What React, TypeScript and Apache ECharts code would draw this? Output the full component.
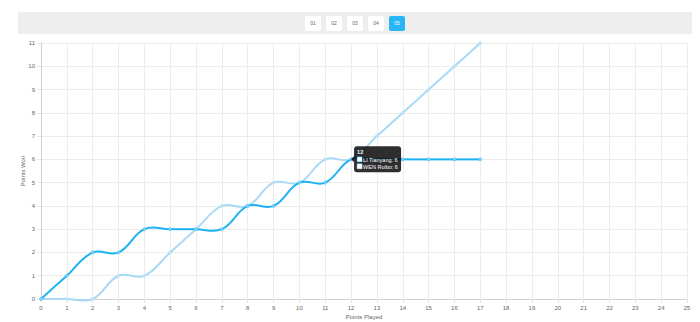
import React, { useEffect, useRef } from "react";
import * as echarts from "echarts";

const pointsPlayed = [0, 1, 2, 3, 4, 5, 6, 7, 8, 9, 10, 11, 12, 13, 14, 15, 16, 17];
const liTianyang = [0, 1, 2, 2, 3, 3, 3, 3, 4, 4, 5, 5, 6, 6, 6, 6, 6, 6];
const wenRuibo = [0, 0, 0, 1, 1, 2, 3, 4, 4, 5, 5, 6, 6, 7, 8, 9, 10, 11];
const games = ["01", "02", "03", "04", "05"];
const activeGame = "05";
const tipIndex = 12;

const DARK = "#1eb2f2";
const LIGHT = "#a9d9f7";
const TENSION = 0.4;

// Chart.js-like cubic spline segments, computed in pixel space via the axis scales
function splineRender(xs: number[], ys: number[], color: string) {
  return (params: any, api: any) => {
    const i = params.dataIndex;
    const n = xs.length;
    if (i >= n - 1) return null;
    const P = (k: number) => {
      const kk = Math.max(0, Math.min(n - 1, k));
      return api.coord([xs[kk], ys[kk]]) as number[];
    };
    const ctrl = (k: number) => {
      const prev = P(k - 1);
      const cur = P(k);
      const next = P(k + 1);
      const d01 = Math.hypot(cur[0] - prev[0], cur[1] - prev[1]);
      const d12 = Math.hypot(next[0] - cur[0], next[1] - cur[1]);
      let s01 = d01 / (d01 + d12);
      let s12 = d12 / (d01 + d12);
      if (isNaN(s01)) s01 = 0;
      if (isNaN(s12)) s12 = 0;
      const fa = TENSION * s01;
      const fb = TENSION * s12;
      return {
        prev: [cur[0] - fa * (next[0] - prev[0]), cur[1] - fa * (next[1] - prev[1])],
        next: [cur[0] + fb * (next[0] - prev[0]), cur[1] + fb * (next[1] - prev[1])],
      };
    };
    const a = P(i);
    const b = P(i + 1);
    const ca = ctrl(i).next;
    const cb = ctrl(i + 1).prev;
    return {
      type: "bezierCurve",
      shape: { x1: a[0], y1: a[1], x2: b[0], y2: b[1], cpx1: ca[0], cpy1: ca[1], cpx2: cb[0], cpy2: cb[1] },
      style: { stroke: color, fill: "none", lineWidth: 2 },
    };
  };
}

export default function App() {
  const ref = useRef<HTMLDivElement>(null);
  useEffect(() => {
    if (!ref.current) return;
    const chart = echarts.init(ref.current, undefined, { renderer: "svg" });
    const font = "Helvetica, Arial, 'Liberation Sans', sans-serif";
    const axisCommon = {
      axisLine: { show: true, lineStyle: { color: "#d0d0d0", width: 1 } },
      axisTick: { show: true, length: 4, lineStyle: { color: "#e8e8e8" } },
      axisLabel: { fontSize: 6, color: "#666", margin: 6, fontFamily: font },
      splitLine: { show: true, lineStyle: { color: "#ececec" } },
      nameTextStyle: { fontSize: 6, color: "#666", fontFamily: font },
      nameMoveOverlap: false,
    };
    chart.setOption({
      animation: false,
      grid: { left: 41, right: 13, top: 43, bottom: 23, containLabel: false, outerBoundsMode: "none" },
      xAxis: {
        type: "value",
        min: 0,
        max: 25,
        interval: 1,
        name: "Points Played",
        nameLocation: "middle",
        nameGap: 15,
        ...axisCommon,
      },
      yAxis: {
        type: "value",
        min: 0,
        max: 11,
        interval: 1,
        name: "Points Won",
        nameLocation: "middle",
        nameGap: 15,
        ...axisCommon,
      },
      series: [
        {
          name: "WEN Ruibo curve",
          type: "custom",
          coordinateSystem: "cartesian2d",
          data: pointsPlayed.map((x, i) => [x, wenRuibo[i]]),
          encode: { x: 0, y: 1 },
          renderItem: splineRender(pointsPlayed, wenRuibo, LIGHT),
          z: 2,
          silent: true,
        },
        {
          name: "LI Tianyang curve",
          type: "custom",
          coordinateSystem: "cartesian2d",
          data: pointsPlayed.map((x, i) => [x, liTianyang[i]]),
          encode: { x: 0, y: 1 },
          renderItem: splineRender(pointsPlayed, liTianyang, DARK),
          z: 3,
          silent: true,
        },
        {
          name: "WEN Ruibo",
          type: "line",
          data: pointsPlayed.map((x, i) => [x, wenRuibo[i]]),
          symbol: "circle",
          symbolSize: 3,
          lineStyle: { width: 0, opacity: 0 },
          itemStyle: { color: "#c3e6fb", borderColor: LIGHT, borderWidth: 0.5 },
          z: 4,
        },
        {
          name: "LI Tianyang",
          type: "line",
          data: pointsPlayed.map((x, i) => [x, liTianyang[i]]),
          symbol: "circle",
          symbolSize: 3,
          lineStyle: { width: 0, opacity: 0 },
          itemStyle: { color: "#8ed6f8", borderColor: DARK, borderWidth: 0.5 },
          z: 5,
        },
      ],
    });
    const [px, py] = chart.convertToPixel({ gridIndex: 0 }, [
      pointsPlayed[tipIndex],
      liTianyang[tipIndex],
    ]) as number[];
    const bx = px + 3;
    const by = py - 13;
    const Z = 100;
    chart.setOption({
      graphic: [
        {
          type: "rect",
          z: Z,
          shape: { x: bx, y: by, width: 47, height: 26, r: 3 },
          style: { fill: "rgba(0,0,0,0.82)" },
        },
        {
          type: "polygon",
          z: Z,
          shape: { points: [[bx, by + 10], [bx - 3, by + 13], [bx, by + 16]] },
          style: { fill: "rgba(0,0,0,0.82)" },
        },
        {
          type: "text",
          z: Z + 1,
          x: bx + 3,
          y: by + 3,
          style: {
            text: String(pointsPlayed[tipIndex]),
            fill: "#fff",
            fontSize: 5.5,
            fontWeight: "bold",
            fontFamily: font,
            textVerticalAlign: "top",
          },
        },
        {
          type: "rect",
          z: Z + 1,
          shape: { x: bx + 3, y: by + 10.5, width: 5, height: 5 },
          style: { fill: "#fff", stroke: DARK, lineWidth: 0.5 },
        },
        {
          type: "text",
          z: Z + 1,
          x: bx + 9,
          y: by + 10.5,
          style: {
            text: "LI Tianyang: " + liTianyang[tipIndex],
            fill: "#fff",
            fontSize: 5.5,
            fontFamily: font,
            textVerticalAlign: "top",
          },
        },
        {
          type: "rect",
          z: Z + 1,
          shape: { x: bx + 3, y: by + 17.5, width: 5, height: 5 },
          style: { fill: "#fff", stroke: LIGHT, lineWidth: 0.5 },
        },
        {
          type: "text",
          z: Z + 1,
          x: bx + 9,
          y: by + 17.5,
          style: {
            text: "WEN Ruibo: " + wenRuibo[tipIndex],
            fill: "#fff",
            fontSize: 5.5,
            fontFamily: font,
            textVerticalAlign: "top",
          },
        },
      ],
    });
    return () => chart.dispose();
  }, []);

  return (
    <div style={{ position: "fixed", left: 0, top: 0, width: 700, height: 322, background: "#fff", fontFamily: "Helvetica, Arial, 'Liberation Sans', sans-serif" }}>
      <div
        style={{
          position: "absolute",
          left: 18,
          top: 12,
          width: 674,
          height: 22,
          background: "#eeeeee",
          display: "flex",
          justifyContent: "center",
          alignItems: "center",
          gap: 5,
        }}
      >
        {games.map((g) => (
          <div
            key={g}
            style={{
              width: 16,
              height: 15,
              borderRadius: 2,
              background: g === activeGame ? "#29b6f6" : "#fff",
              color: g === activeGame ? "#fff" : "#666",
              fontSize: 5,
              display: "flex",
              alignItems: "center",
              justifyContent: "center",
            }}
          >
            {g}
          </div>
        ))}
      </div>
      <div ref={ref} style={{ position: "absolute", left: 0, top: 0, width: 700, height: 322 }} />
    </div>
  );
}
